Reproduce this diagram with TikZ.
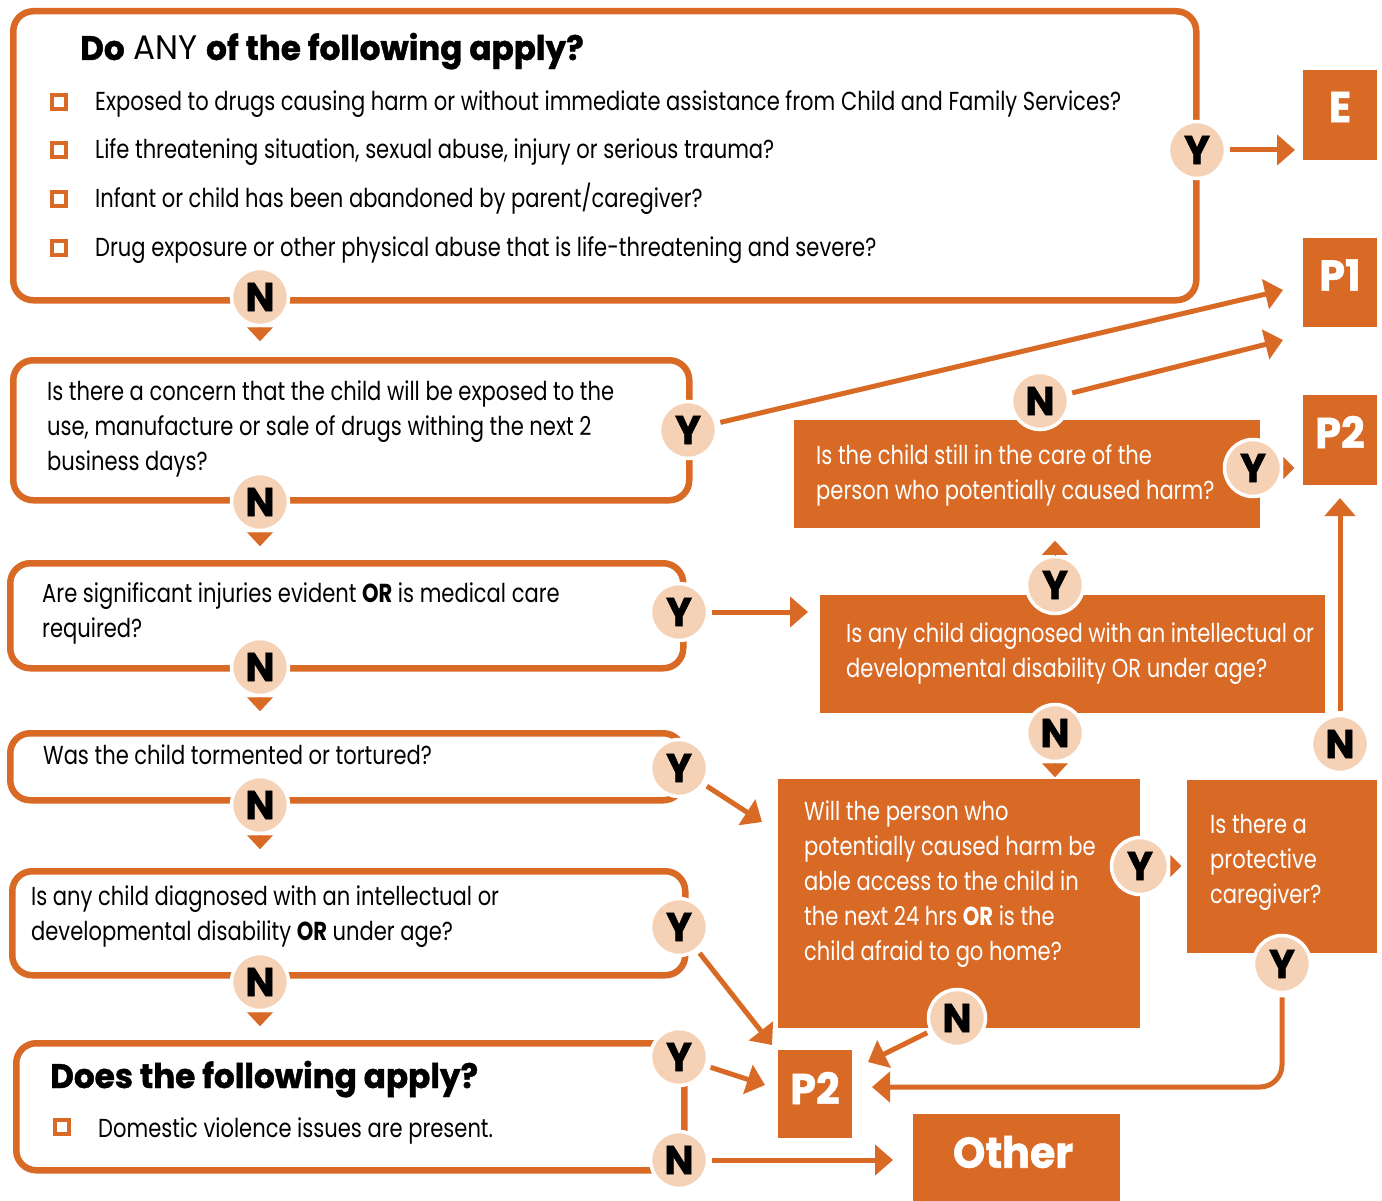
\documentclass[tikz,border=0pt]{standalone}
\usepackage{fontspec}
\setmainfont{Poppins}[FakeStretch=0.81]
\newfontfamily\heavyfont{Poppins}[FakeStretch=0.96, BoldFeatures={FakeBold=1.2}]
\usetikzlibrary{arrows.meta}
\definecolor{org}{RGB}{217,106,38}
\definecolor{peach}{RGB}{245,209,181}
\begin{document}
\begin{tikzpicture}[x=1pt,y=-1pt,
  qbox/.style={draw=org, line width=6.5pt, rounded corners=20pt, fill=white, anchor=north west, inner sep=0pt},
  obox/.style={fill=org, anchor=north west, inner sep=0pt},
  badge/.style={circle, fill=peach, draw=white, line width=3.5pt, minimum size=57pt, inner sep=0pt, font=\heavyfont\fontsize{40}{40}\selectfont\bfseries},
  body/.style={anchor=base west, inner sep=0pt, font=\fontsize{26}{35}\selectfont},
  wbody/.style={body, text=white},
  head/.style={anchor=base west, inner sep=0pt, font=\heavyfont\fontsize{34}{40}\selectfont},
  big/.style={inner sep=0pt, text=white, font=\heavyfont\fontsize{43}{43}\selectfont\bfseries},
  chk/.style={draw=org, line width=3.5pt, minimum size=14pt, inner sep=0pt},
  conn/.style={draw=org, line width=5pt, -{Triangle[length=18pt,width=30pt]}, shorten <=3pt},
  ntip/.style={draw=org, line width=1pt, -{Triangle[length=14pt,width=26pt]}},
  stip/.style={draw=org, line width=1pt, -{Triangle[length=11pt,width=22pt]}}
]
\useasboundingbox[fill=white] (0,0) rectangle (1382,1201);

% ---------- question boxes ----------
\node[qbox, minimum width=1183pt, minimum height=289pt] (q1) at (10,8) {};
\node[qbox, minimum width=676pt, minimum height=140pt] (q2) at (10,357) {};
\node[qbox, minimum width=673pt, minimum height=105pt] (q3) at (7,560) {};
\node[qbox, minimum width=673pt, minimum height=67pt] (q4) at (7,730) {};
\node[qbox, minimum width=673pt, minimum height=104pt] (q5) at (9,868) {};
\node[qbox, minimum width=668pt, minimum height=127pt] (q6) at (13,1040) {};

% ---------- orange boxes ----------
\node[obox, minimum width=74pt, minimum height=90pt] (E) at (1303,70) {};
\node[obox, minimum width=74pt, minimum height=89pt] (P1) at (1303,238) {};
\node[obox, minimum width=74pt, minimum height=90pt] (P2) at (1303,395) {};
\node[obox, minimum width=466pt, minimum height=108pt] (A) at (794,420) {};
\node[obox, minimum width=505pt, minimum height=118pt] (B) at (820,595) {};
\node[obox, minimum width=362pt, minimum height=249pt] (C) at (778,779) {};
\node[obox, minimum width=190pt, minimum height=173pt] (D) at (1187,780) {};
\node[obox, minimum width=74pt, minimum height=88pt] (P2b) at (778,1050) {};
\node[obox, minimum width=207pt, minimum height=87pt] (Oth) at (913,1114) {};

\node[big] (lE) at (1340,107) {E};
\node[big] (lP1) at (1340,275) {P1};
\node[big] (lP2) at (1340,432) {P2};
\node[big] (lP2b) at (815,1088) {P2};
\node[big] (lOth) at (1013,1152) {Other};

% ---------- texts ----------
\node[head] (t1h) at (80,60) {\textbf{Do} ANY \textbf{of the following apply?}};
\node[chk] (c1) at (59,102) {};
\node[chk] (c2) at (59,150) {};
\node[chk] (c3) at (59,199) {};
\node[chk] (c4) at (59,248) {};
\node[body] (t1a) at (95,111) {Exposed to drugs causing harm or without immediate assistance from Child and Family Services?};
\node[body] (t1b) at (95,159) {Life threatening situation, sexual abuse, injury or serious trauma?};
\node[body] (t1c) at (95,208) {Infant or child has been abandoned by parent/caregiver?};
\node[body] (t1d) at (95,257) {Drug exposure or other physical abuse that is life-threatening and severe?};

\node[body] (t2a) at (47,400) {Is there a concern that the child will be exposed to the};
\node[body] (t2b) at (47,435) {use, manufacture or sale of drugs withing the next 2};
\node[body] (t2c) at (47,470) {business days?};

\node[body] (t3a) at (42,602) {Are significant injuries evident \textbf{OR} is medical care};
\node[body] (t3b) at (42,637) {required?};

\node[body] (t4a) at (43,764) {Was the child tormented or tortured?};

\node[body] (t5a) at (31,905) {Is any child diagnosed with an intellectual or};
\node[body] (t5b) at (31,940) {developmental disability \textbf{OR} under age?};

\node[head] (t6h) at (50,1088) {\textbf{Does the following apply?}};
\node[chk] (c6) at (62,1127) {};
\node[body] (t6a) at (98,1137) {Domestic violence issues are present.};

\node[wbody] (tAa) at (816,464) {Is the child still in the care of the};
\node[wbody] (tAb) at (816,499) {person who potentially caused harm?};

\node[wbody] (tBa) at (846,642) {Is any child diagnosed with an intellectual or};
\node[wbody] (tBb) at (846,677) {developmental disability OR under age?};

\node[wbody] (tCa) at (804,820) {Will the person who};
\node[wbody] (tCb) at (804,855) {potentially caused harm be};
\node[wbody] (tCc) at (804,890) {able access to the child in};
\node[wbody] (tCd) at (804,925) {the next 24 hrs \textbf{OR} is the};
\node[wbody] (tCe) at (804,960) {child afraid to go home?};

\node[wbody] (tDa) at (1210,833) {Is there a};
\node[wbody] (tDb) at (1210,868) {protective};
\node[wbody] (tDc) at (1210,903) {caregiver?};

% ---------- badges ----------
\node[badge] (y1) at (1197,150) {Y};
\node[badge] (n1) at (260,297) {N};
\node[badge] (y2) at (688,430) {Y};
\node[badge] (n2) at (260,502) {N};
\node[badge] (y3) at (679,612) {Y};
\node[badge] (n3) at (260,667) {N};
\node[badge] (y4) at (679,768) {Y};
\node[badge] (n4) at (260,805) {N};
\node[badge] (y5) at (679,927) {Y};
\node[badge] (n5) at (260,982) {N};
\node[badge] (y6) at (679,1057) {Y};
\node[badge] (n6) at (679,1160) {N};
\node[badge] (nA) at (1040,401) {N};
\node[badge] (yA) at (1253,468) {Y};
\node[badge] (yB) at (1055,585) {Y};
\node[badge] (nB) at (1055,733) {N};
\node[badge] (yC) at (1140,866) {Y};
\node[badge] (nC) at (957,1018) {N};
\node[badge] (yD) at (1282,964) {Y};
\node[badge] (nD) at (1340,744) {N};

% ---------- tip coordinates ----------
\coordinate (tE) at (1295,150);
\coordinate (tP1a) at (1283,290);
\coordinate (tP1b) at (1283,340);
\coordinate (tB) at (808,612);
\coordinate (tC) at (762,822);
\coordinate (tP2b1) at (772,1045);
\coordinate (tP2b2) at (765,1085);
\coordinate (tOth) at (893,1160);
\coordinate (tP2b3) at (868,1062);
\coordinate (cD) at (1282,1087);
\coordinate (tP2b4) at (872,1087);
\coordinate (tP2) at (1340,498);

% ---------- connectors ----------
\draw[conn] (y1) -- (tE);
\draw[conn] (y2) -- (tP1a);
\draw[conn] (nA) -- (tP1b);
\draw[conn] (y3) -- (tB);
\draw[conn] (y4) -- (tC);
\draw[conn] (y5) -- (tP2b1);
\draw[conn] (y6) -- (tP2b2);
\draw[conn] (n6) -- (tOth);
\draw[conn] (nC) -- (tP2b3);
\draw[conn, rounded corners=22pt] (yD.south) -- (cD) -- (tP2b4);
\draw[conn] (nD) -- (tP2);

% small tips
\draw[ntip] (n1.south) -- ++(0,14);
\draw[ntip] (n2.south) -- ++(0,14);
\draw[ntip] (n3.south) -- ++(0,14);
\draw[ntip] (n4.south) -- ++(0,14);
\draw[ntip] (n5.south) -- ++(0,14);
\draw[ntip] (nB.south) -- ++(0,14);
\draw[ntip] (yB.north) -- ++(0,-14);
\draw[stip] (yA.east) -- ++(11,0);
\draw[stip] (yC.east) -- ++(11,0);
\end{tikzpicture}
\end{document}
